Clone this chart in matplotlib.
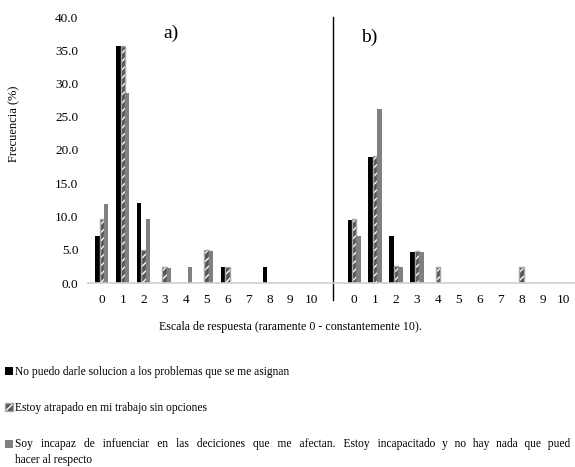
import numpy as np
import matplotlib.pyplot as plt
from matplotlib.patches import Patch, Rectangle
from matplotlib.legend_handler import HandlerPatch

plt.rcParams['font.family'] = ['Liberation Serif', 'DejaVu Serif']

escala = list(range(11))
etiquetas = [str(i) for i in escala]

# a)
a_no_puedo = [7.1, 35.6, 12.0, 0, 0, 0, 2.4, 0, 2.4, 0, 0]
a_atrapado = [9.6, 35.7, 4.9, 2.4, 0, 4.9, 2.4, 0, 0, 0, 0]
a_incapaz = [11.9, 28.5, 9.6, 2.3, 2.4, 4.8, 0, 0, 0, 0, 0]

# b)
b_no_puedo = [9.5, 19.0, 7.1, 4.7, 0, 0, 0, 0, 0, 0, 0]
b_atrapado = [9.6, 19.1, 2.5, 4.8, 2.4, 0, 0, 0, 2.4, 0, 0]
b_incapaz = [7.1, 26.1, 2.4, 4.7, 0, 0, 0, 0, 0, 0, 0]

# la tercera etiqueta va justificada en el original (espacios mas anchos)
parte1 = 'Soy incapaz de infuenciar en las deciciones que me afectan. Estoy incapacitado'
parte2 = 'y no hay nada que pued'
linea1 = (parte1.replace(' ', '\u2002\u2009') + '\u2002\u200a'
          + parte2.replace(' ', '\u2002\u200a'))
series_labels = ['No puedo darle solucion a los problemas que se me asignan',
                 'Estoy atrapado en mi trabajo sin opciones',
                 linea1 + '\nhacer al respecto']

fig = plt.figure(figsize=(5.75, 4.67), dpi=100)
ax = fig.add_axes([88 / 575, 1 - 283 / 467, 1 - 88 / 575, (283 - 17) / 467])

x_a = np.array(escala, dtype=float)
x_b = x_a + 12.05
w = 0.21

for x, s1, s2, s3 in [(x_a, a_no_puedo, a_atrapado, a_incapaz),
                      (x_b, b_no_puedo, b_atrapado, b_incapaz)]:
    ax.bar(x - w, s1, w, color='black', linewidth=0)
    ax.bar(x, s2, w, color='#555555', edgecolor='white', hatch='////', linewidth=0)
    ax.bar(x, s2, w, fill=False, edgecolor='#a6a6a6', linewidth=1.0)
    ax.bar(x + w, s3, w, color='#808080', linewidth=0)

ax.set_xlim(-0.66, 22.6)
ax.set_ylim(0, 40)
ax.set_yticks(np.arange(0, 41, 5))
ax.set_yticklabels([f'{v:.1f}' for v in np.arange(0, 41, 5)], fontsize=9.5)
ax.set_xticks(list(x_a) + list(x_b))
ax.set_xticklabels(etiquetas + etiquetas, fontsize=9.5)
ax.tick_params(axis='y', length=0, pad=7)
ax.tick_params(axis='x', length=0, pad=8)
for sp in ['top', 'right', 'left']:
    ax.spines[sp].set_visible(False)
ax.spines['bottom'].set_color('#d0d0d0')
ax.spines['bottom'].set_linewidth(1.2)

ax.axvline(11.05, ymin=-0.065, ymax=1.0, color='black', linewidth=1.0, clip_on=False)

ax.text(3.3, 37.5, 'a)', fontsize=14, ha='center', va='center')
ax.text(12.75, 37.0, 'b)', fontsize=14, ha='center', va='center')

fig.text(14 / 575, 1 - 124 / 467, 'Frecuencia (%)', rotation=90, fontsize=9,
         ha='center', va='center')
fig.text(290 / 575, 1 - 327 / 467,
         'Escala de respuesta (raramente 0 - constantemente 10).',
         fontsize=8.6, ha='center', va='center')


# cuadrito de la tercera serie alineado con la primera linea del texto
def cuadro_arriba(legend, orig_handle, xdescent, ydescent, width, height, fontsize):
    return Rectangle((-xdescent, -ydescent + 0.7 * fontsize), width, height)


h3 = Patch(facecolor='#808080')
handles = [Patch(facecolor='black'),
           (Patch(facecolor='#555555', edgecolor='white', hatch='////', linewidth=0),
            Patch(fill=False, edgecolor='#a6a6a6', linewidth=1.0)),
           h3]
leg = fig.legend(handles, series_labels, loc='upper left',
                 bbox_to_anchor=(0.0, 1 - 361 / 467),
                 frameon=False, fontsize=8.3, handlelength=0.7, handleheight=0.7,
                 handletextpad=0.2, labelspacing=2.1, borderaxespad=0,
                 handler_map={h3: HandlerPatch(patch_func=cuadro_arriba)})
leg.get_texts()[2].set_linespacing(1.45)

fig.savefig('out.png', dpi=100)
